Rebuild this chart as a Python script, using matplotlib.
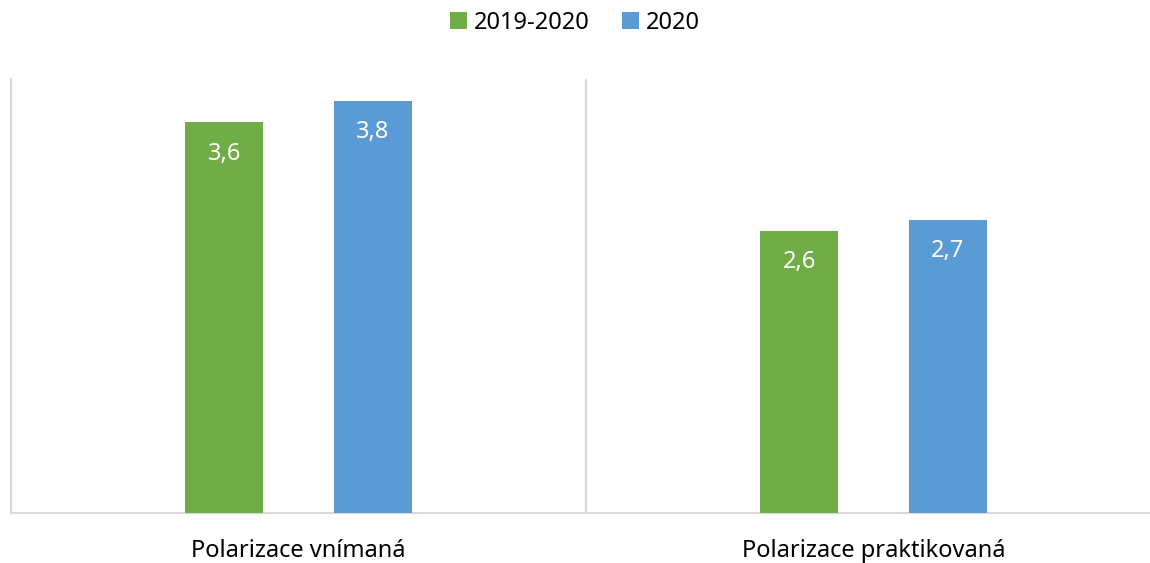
import matplotlib.pyplot as plt
import numpy as np

plt.rcParams['font.family'] = ['Noto Sans', 'DejaVu Sans']

categories = ["Polarizace vnímaná", "Polarizace praktikovaná"]
series_names = ["2019-2020", "2020"]
values_2019_2020 = [3.6, 2.6]
values_2020 = [3.8, 2.7]
colors = ["#70AD47", "#5B9BD5"]

W, H = 1150, 563
fig = plt.figure(figsize=(W / 100, H / 100), dpi=100)
# plot area spans 10..1160 px horizontally (right edge falls outside the image)
ax = fig.add_axes([11 / W, (H - 512.5) / H, 1150 / W, (512.5 - 79) / H])

x = np.arange(len(categories))
width = 0.136
offset = 0.129
bars = []
for vals, name, col, d in zip([values_2019_2020, values_2020], series_names, colors, [-offset, offset]):
    b = ax.bar(x + d, vals, width, color=col, label=name, zorder=3)
    bars.append(b)
    for rect, v in zip(b, vals):
        ax.annotate(f"{v:.1f}".replace(".", ","),
                    xy=(rect.get_x() + rect.get_width() / 2, rect.get_height()),
                    xytext=(0, -14), textcoords="offset points",
                    ha="center", va="top", color="white", fontsize=17)

ax.set_xlim(-0.5, len(categories) - 0.5)
ax.set_ylim(0, 4)
ax.set_yticks([])
ax.set_xticks(x)
ax.set_xticklabels(categories, fontsize=17, color="#000000")
ax.tick_params(axis="x", length=0, pad=19)

for s in ["top", "right"]:
    ax.spines[s].set_visible(False)
for s in ["left", "bottom"]:
    ax.spines[s].set_color("#D9D9D9")
    ax.spines[s].set_linewidth(1.5)
# category separators
for sep in np.arange(0.5, len(categories) - 0.5):
    ax.axvline(sep, color="#D9D9D9", linewidth=1.5, zorder=1)

fig.legend(handles=bars, labels=series_names, loc="center",
           bbox_to_anchor=(0.5, 1 - 23 / H), ncol=2, frameon=False,
           fontsize=17, handlelength=0.7, handleheight=0.7,
           handletextpad=0.3, columnspacing=1.4)

fig.savefig("out.png", dpi=100)
